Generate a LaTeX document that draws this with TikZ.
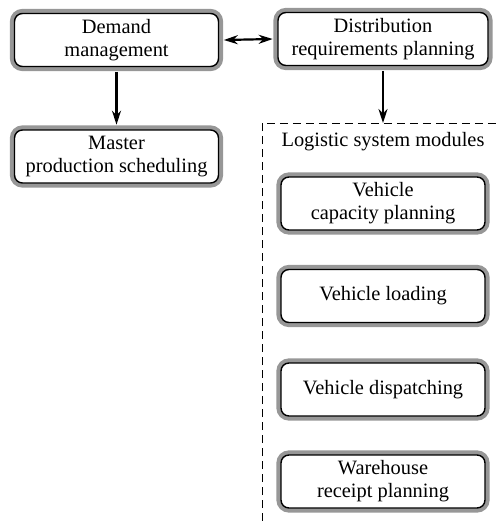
\documentclass[tikz,border=0pt]{standalone}
\usepackage{fontspec}
\setmainfont{Liberation Serif}
\usetikzlibrary{positioning, arrows.meta}
\definecolor{ringGray}{HTML}{979797}

\begin{document}
\begin{tikzpicture}[
    x=0.5pt, y=-0.5pt,
    >={Stealth[length=7pt, width=4.5pt]},
    modbox/.style={
        draw=black, line width=0.7pt, rounded corners=4pt, fill=white,
        preaction={draw=ringGray, line width=4.6pt},
        minimum width=102pt, minimum height=26.5pt, inner sep=1pt,
        font=\fontsize{10.2}{11.5}\selectfont, align=center
    },
    link/.style={->, line width=1.1pt},
    groupline/.style={dash pattern=on 4pt off 2.5pt, line width=0.5pt},
]
\useasboundingbox (0,0) rectangle (497,521);

% ============================================
% Planning (top)
% ============================================
\node[modbox] (demand) at (116.5,40) {Demand\\management};
\node[modbox] (master) at (116.5,156.5) {Master\\production scheduling};
\node[modbox, minimum width=105pt] (drp) at (383,39) {Distribution\\requirements planning};

% ============================================
% Logistic system modules (right)
% ============================================
\coordinate (grpcorner) at (262,123);
\draw[groupline] (262,521) -- (grpcorner) -- (497,123);
\node[font=\fontsize{10.2}{11.5}\selectfont] (grplabel) at (383,142) {Logistic system modules};

\node[modbox] (vcap) at (383,203.5) {Vehicle\\capacity planning};
\node[modbox] (vload) at (383,296) {Vehicle loading};
\node[modbox] (vdisp) at (383,389.5) {Vehicle dispatching};
\node[modbox] (wrp) at (383,481.5) {Warehouse\\receipt planning};

% ============================================
% Connections
% ============================================
\draw[link, <->] ([xshift=2.3pt]demand.east) -- ([xshift=-2.3pt]drp.west);
\draw[link] ([yshift=-2.3pt]demand.south) -- ([yshift=2.3pt]master.north);
\draw[link] ([yshift=-2.3pt]drp.south) -- (drp.south |- grpcorner);

\end{tikzpicture}
\end{document}
